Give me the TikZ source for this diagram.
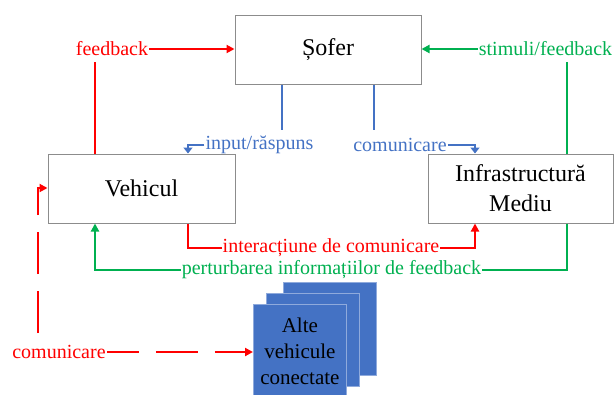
\documentclass[tikz,border=0pt]{standalone}
\usepackage{fontspec}
\setmainfont{Liberation Serif}
\usetikzlibrary{arrows.meta}
\definecolor{cred}{HTML}{FF0000}
\definecolor{cgreen}{HTML}{00B050}
\definecolor{cblue}{HTML}{4472C4}
\definecolor{cborder}{HTML}{8C8C8C}
\definecolor{cstackedge}{HTML}{8FAADC}
\tikzset{
  box/.style={draw=cborder, line width=1pt, fill=white, minimum height=69pt, inner sep=2pt,
    font=\fontsize{24}{30}\selectfont, align=center},
  lbl/.style={inner sep=1pt, font=\fontsize{20}{24}\selectfont},
  conn/.style={line width=2.2pt},
  tip/.style={-{Triangle[length=8pt,width=8pt]}},
  stackbox/.style={fill=cblue, draw=cstackedge, line width=0.8pt},
}
\begin{document}
\begin{tikzpicture}[x=1pt,y=-1pt]
\useasboundingbox (0,0) rectangle (615,394);
% boxes
\node[box, minimum width=186pt] (sofer) at (328,49.5) {Șofer};
\node[box, minimum width=187pt] (veh) at (141.5,188.5) {Vehicul};
\node[box, minimum width=185pt] (inf) at (520.5,188.5) {Infrastructură\\Mediu};
% stacked boxes
\path[stackbox] (283,282) rectangle (376,375);
\path[stackbox] (266,293) rectangle (359,386);
\node[stackbox, minimum width=93pt, minimum height=93pt, inner sep=0pt, anchor=north west,
  align=center, font=\fontsize{21}{26}\selectfont] (alte) at (253,304) {Alte\\vehicule\\conectate};
% labels
\node[lbl, text=cred] (fb) at (112,49) {feedback};
\node[lbl, text=cgreen] (sf) at (545.5,49) {stimuli/feedback};
\node[lbl, text=cblue] (ir) at (259.5,145) {input/răspuns};
\node[lbl, text=cblue] (cm) at (400,145) {comunicare};
\node[lbl, text=cred] (ic) at (331,248) {interacțiune de comunicare};
\node[lbl, text=cgreen] (pf) at (331.5,270) {perturbarea informațiilor de feedback};
\node[lbl, text=cred] (cm2) at (59,352) {comunicare};
% helper coordinates
\coordinate (xa) at (95,0);
\coordinate (xb) at (188,0);
\coordinate (xc) at (282,0);
\coordinate (xd) at (374,0);
\coordinate (xe) at (475,0);
\coordinate (xf) at (567,0);
\coordinate (xg) at (38,0);
\coordinate (ya) at (0,62);
\coordinate (yb) at (0,130);
\coordinate (yc) at (0,333);
\coordinate (yd) at (0,188);
% red feedback
\draw[conn, cred] (veh.north -| xa) -- (ya -| xa);
\draw[conn, cred, tip] (fb.east) -- (sofer.west |- fb.east);
% green stimuli
\draw[conn, cgreen] (inf.north -| xf) -- (ya -| xf);
\draw[conn, cgreen, tip] (sf.west) -- (sofer.east |- sf.west);
% blue
\draw[conn, cblue] (sofer.south -| xc) -- (yb -| xc);
\draw[conn, cblue] (sofer.south -| xd) -- (yb -| xd);
\draw[conn, cblue, -{Triangle[length=6pt,width=9pt]}] (ir.west) -| (veh.north -| xb);
\draw[conn, cblue, -{Triangle[length=6pt,width=9pt]}] (cm.east) -| (inf.north -| xe);
% red interaction
\draw[conn, cred] (veh.south -| xb) |- (ic.west);
\draw[conn, cred, tip] (ic.east) -| (inf.south -| xe);
% green perturbation
\draw[conn, cgreen] (inf.south -| xf) |- (pf.east);
\draw[conn, cgreen, tip] (pf.west) -| (veh.south -| xa);
% red dashed communication
\draw[conn, cred, dash pattern=on 42pt off 17pt, dash phase=10pt, tip] (cm2.east) -- (alte.west |- cm2.east);
\draw[conn, cred, dash pattern=on 42pt off 17pt, tip] (yc -| xg) |- (veh.west |- yd);
\end{tikzpicture}
\end{document}
